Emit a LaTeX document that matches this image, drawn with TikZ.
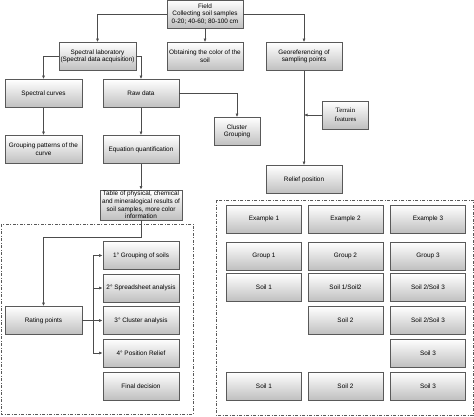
\documentclass[tikz,border=0pt]{standalone}
\usepackage{fontspec}
\setmainfont{Liberation Sans}
\newfontfamily\terrainfont{Liberation Serif}
\usetikzlibrary{arrows.meta}
\tikzset{
    process/.style = {
        rectangle, draw=black!65, line width=0.8pt,
        top color=white, bottom color=black!25,
        minimum width=76pt,
        minimum height=28pt,
        inner sep=1pt,
        align=center,
        font=\fontsize{6.4}{7.6}\selectfont
    },
    narrow/.style = {
        process, minimum width=46pt
    },
    arrow/.style = {
        -{Latex[length=3.5pt,width=3pt]}, draw=black!70, line width=0.6pt
    },
    frame/.style = {
        draw=black!65, line width=1pt, dash pattern=on 3pt off 1.5pt on 1pt off 1.5pt
    }
}

\begin{document}
\begin{tikzpicture}[x=1pt, y=-1pt]
\useasboundingbox (0,0) rectangle (474,417);

% top part
\node (field) [process] at (205,14) {Field\\Collecting soil samples\\0-20; 40-60; 80-100 cm};
\node (speclab) [process, minimum width=77pt] at (97.5,56.5) {Spectral laboratory\\(Spectral data acquisition)};
\node (color) [process] at (205,56.5) {Obtaining the color of the\\soil};
\node (georef) [process] at (304,56.5) {Georeferencing of\\sampling points};
\node (curves) [process, minimum width=77pt] at (43.5,93.5) {Spectral curves};
\node (rawdata) [process] at (141,93.5) {Raw data};
\node (cluster) [narrow] at (237,131.5) {Cluster\\Grouping};
\node (terrain) [narrow, font=\terrainfont\fontsize{6.8}{8.5}\selectfont] at (345.5,115) {Terrain\\features};
\node (relief) [process] at (304,179.5) {Relief position};
\node (patterns) [process, minimum width=77pt] at (43.5,149.5) {Grouping patterns of the\\curve};
\node (equation) [process] at (141,149.5) {Equation quantification};
\node (table) [process, minimum width=82pt, minimum height=30pt, inner sep=0.5pt] at (141,205) {Table of physical, chemical\\and mineralogical results of\\soil samples, more color\\information};

% left frame
\node (grp1) [process] at (141,255.5) {1° Grouping of soils};
\node (sheet) [process] at (141,288) {2° Spreadsheet analysis};
\node (clust) [process] at (141,320.5) {3° Cluster analysis};
\node (posrel) [process] at (141,353) {4° Position Relief};
\node (final) [process] at (141,386) {Final decision};
\node (rating) [process, minimum width=77pt] at (43.5,320.5) {Rating points};

% right frame
\node (ex1) [process, minimum width=75pt] at (264,219) {Example 1};
\node (ex2) [process, minimum width=75pt] at (345.5,219) {Example 2};
\node (ex3) [process, minimum width=75pt] at (428,219) {Example 3};
\node (gr1) [process, minimum width=75pt] at (264,256) {Group 1};
\node (gr2) [process, minimum width=75pt] at (345.5,256) {Group 2};
\node (gr3) [process, minimum width=75pt] at (428,256) {Group 3};
\node (s11) [process, minimum width=75pt] at (264,287.5) {Soil 1};
\node (s12) [process, minimum width=75pt] at (345.5,287.5) {Soil 1/Soil2};
\node (s13) [process, minimum width=75pt] at (428,287.5) {Soil 2/Soil 3};
\node (s22) [process, minimum width=75pt] at (345.5,320.5) {Soil 2};
\node (s23) [process, minimum width=75pt] at (428,320.5) {Soil 2/Soil 3};
\node (s33) [process, minimum width=75pt] at (428,353) {Soil 3};
\node (s41) [process, minimum width=75pt] at (264,386) {Soil 1};
\node (s42) [process, minimum width=75pt] at (345.5,386) {Soil 2};
\node (s43) [process, minimum width=75pt] at (428,386) {Soil 3};

\draw [frame] (1,224) rectangle (193,414);
\draw [frame] (216,200) rectangle (473,415);

\draw [arrow] (field.west) -| (speclab.north);
\draw [arrow] (field) -- (color);
\draw [arrow] (field.east) -| (georef.north);
\draw [arrow] (speclab.west) -| (curves.north);
\draw [arrow] (speclab.east) -| (rawdata.north);
\draw [arrow] (rawdata.east) -| (cluster.north);
\draw [arrow] (curves) -- (patterns);
\draw [arrow] (rawdata) -- (equation);
\draw [arrow] (equation) -- (table);
\draw [arrow] (georef) -- (relief);
\coordinate (join) at (georef.south |- terrain.west);
\draw [arrow] (terrain.west) -- (join);
\draw [arrow] (table.south) -- ++(0,17) -| (rating.north);
\draw [arrow] (rating) -- (clust);
\coordinate (bus) at (93,0);
\draw [arrow] (bus |- posrel.west) |- (grp1.west);
\draw [arrow] (bus |- sheet.west) -- (sheet.west);
\draw [arrow] (bus |- posrel.west) -- (posrel.west);

\end{tikzpicture}
\end{document}
